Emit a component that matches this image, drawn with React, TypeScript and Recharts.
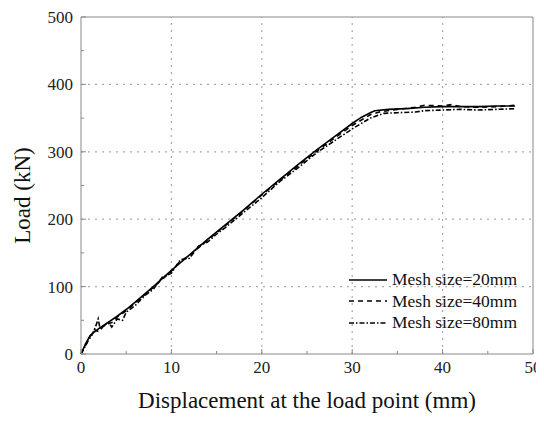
import React from 'react';
import {
  LineChart,
  Line,
  XAxis,
  YAxis,
  ReferenceLine,
} from 'recharts';

// displacement (mm) / load (kN)
const mesh20X = [0, 0.5, 1.0, 1.5, 2.0, 3, 4, 5, 6, 8, 10, 12, 14, 16, 18, 20, 22, 24, 26, 28, 30, 31, 32, 32.5, 34, 36, 38, 40, 42, 44, 46, 48];
const mesh20Y = [0, 15, 27, 33, 38, 47, 56, 66, 77, 100, 124, 147, 170, 192, 214, 237, 259, 281, 302, 322, 342, 351, 358, 361, 363, 364, 366, 367, 367, 367, 368, 368];

const mesh40X = [0, 0.7, 1, 1.5, 2, 2.5, 3, 3.5, 4, 5, 6, 8, 10, 11, 12, 14, 16, 18, 20, 22, 24, 26, 28, 30, 32, 33, 35, 37, 38, 40, 41, 42, 44, 46, 48];
const mesh40Y = [0, 18, 26, 36, 33, 42, 45, 47, 55, 64, 76, 99, 123, 138, 146, 169, 191, 213, 236, 258, 279, 300, 320, 339, 355, 359, 363, 366, 369, 368, 370, 367, 366, 367, 369];

const mesh80X = [0, 0.8, 1.2, 1.6, 1.9, 2.1, 2.6, 3, 3.4, 4, 4.6, 5, 6, 7, 8, 9, 10, 11, 12, 13, 14, 15, 16, 18, 20, 22, 24, 26, 28, 30, 32, 33.5, 35, 37, 38, 40, 42, 44, 46, 48];
const mesh80Y = [0, 20, 28, 40, 52, 38, 42, 48, 40, 52, 50, 62, 72, 86, 96, 114, 120, 140, 142, 160, 166, 178, 188, 210, 232, 256, 276, 298, 316, 334, 350, 357, 358, 359, 361, 362, 363, 362, 363, 364];

const xTicks = [0, 5, 10, 15, 20, 25, 30, 35, 40, 45, 50];
const yTicks = [0, 50, 100, 150, 200, 250, 300, 350, 400, 450, 500];
const xGrid = [10, 20, 30, 40];
const yGrid = [100, 200, 300, 400];

const seriesNames = ['Mesh size=20mm', 'Mesh size=40mm', 'Mesh size=80mm'];

const toPoints = (xs: number[], ys: number[]) => xs.map((x, i) => ({ x, y: ys[i] }));

const FONT = '"Liberation Serif", "Times New Roman", serif';
const AXIS = '#888';
const GRID = '#aaa';
const dashes = [undefined, '5 4', '5 2 1.5 2'];

const XTick = ({ x, y, payload }: any) => {
  const major = payload.value % 10 === 0;
  return (
    <g>
      <line x1={x} x2={x} y1={y} y2={y - (major ? 5 : 3)} stroke={AXIS} />
      {major && (
        <text x={x} y={y + 19} textAnchor="middle" fontSize={17} fontFamily={FONT} fill="#222">
          {payload.value}
        </text>
      )}
    </g>
  );
};

const YTick = ({ x, y, payload }: any) => {
  const major = payload.value % 100 === 0;
  return (
    <g>
      <line x1={x} x2={x + (major ? 5 : 3)} y1={y} y2={y} stroke={AXIS} />
      {major && (
        <text x={x - 8} y={y + 6} textAnchor="end" fontSize={17} fontFamily={FONT} fill="#222">
          {payload.value}
        </text>
      )}
    </g>
  );
};

const LegendBox = () => (
  <div
    style={{
      position: 'absolute',
      left: 340,
      top: 261,
      fontFamily: FONT,
      fontSize: 17.5,
      color: '#111',
      lineHeight: '21.5px',
    }}
  >
    {seriesNames.map((name, i) => (
      <div key={name} style={{ display: 'flex', alignItems: 'center' }}>
        <svg width={40} height={10} style={{ marginRight: 4 }}>
          <line x1={1} x2={39} y1={5} y2={5} stroke="#000" strokeWidth={1.6} strokeDasharray={dashes[i]} />
        </svg>
        <span>{name}</span>
      </div>
    ))}
  </div>
);

export default function App() {
  const all = [
    toPoints(mesh20X, mesh20Y),
    toPoints(mesh40X, mesh40Y),
    toPoints(mesh80X, mesh80Y),
  ];
  return (
    <div style={{ position: 'relative', width: 536, height: 406 }}>
      <style>{'.recharts-wrapper, .recharts-surface { overflow: visible !important; }'}</style>
      <LineChart
        width={536}
        height={406}
        margin={{ top: 9, right: 11, left: 0, bottom: 0 }}
      >
        {xGrid.map((v) => (
          <ReferenceLine key={'gx' + v} x={v} stroke={GRID} strokeDasharray="2 5" strokeWidth={1.2} />
        ))}
        {yGrid.map((v) => (
          <ReferenceLine key={'gy' + v} y={v} stroke={GRID} strokeDasharray="2 5" strokeWidth={1.2} />
        ))}
        <ReferenceLine y={500} stroke={AXIS} />
        <ReferenceLine x={50} stroke={AXIS} />
        <XAxis
          dataKey="x"
          type="number"
          domain={[0, 50]}
          ticks={xTicks}
          interval={0}
          height={60}
          tickSize={0}
          tickMargin={0}
          tickLine={false}
          stroke={AXIS}
          tick={<XTick />}
          label={({ viewBox }: any) => (
            <text
              x={viewBox.x + viewBox.width / 2}
              y={viewBox.y + 54}
              textAnchor="middle"
              fontSize={23}
              fontFamily={FONT}
              fill="#111"
            >
              Displacement at the load point (mm)
            </text>
          )}
        />
        <YAxis
          type="number"
          domain={[0, 500]}
          ticks={yTicks}
          interval={0}
          width={73}
          tickSize={0}
          tickMargin={0}
          tickLine={false}
          stroke={AXIS}
          tick={<YTick />}
          label={({ viewBox }: any) => {
            const cx = 14;
            const cy = viewBox.y + viewBox.height / 2 + 10;
            return (
              <text
                x={cx}
                y={cy}
                transform={`rotate(-90 ${cx} ${cy})`}
                textAnchor="middle"
                dominantBaseline="central"
                fontSize={23}
                fontFamily={FONT}
                fill="#111"
              >
                Load (kN)
              </text>
            );
          }}
        />
        {all.map((pts, i) => (
          <Line
            key={seriesNames[i]}
            data={pts}
            dataKey="y"
            name={seriesNames[i]}
            type="linear"
            stroke="#000"
            strokeWidth={1.6}
            strokeDasharray={dashes[i]}
            dot={false}
            isAnimationActive={false}
          />
        ))}
      </LineChart>
      <LegendBox />
    </div>
  );
}
